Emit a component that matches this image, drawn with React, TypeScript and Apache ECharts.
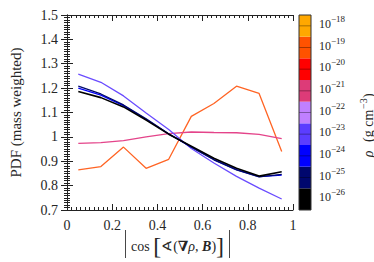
import React, { useEffect, useRef } from "react";
import * as echarts from "echarts";

const xValues = [0.05, 0.15, 0.25, 0.35, 0.45, 0.55, 0.65, 0.75, 0.85, 0.95];
const orangeSeries = [0.865, 0.878, 0.958, 0.871, 0.908, 1.084, 1.137, 1.208, 1.178, 0.94];
const pinkSeries = [0.973, 0.976, 0.985, 1.0, 1.013, 1.02, 1.018, 1.017, 1.01, 0.993];
const purpleSeries = [1.257, 1.224, 1.168, 1.098, 1.03, 0.952, 0.893, 0.838, 0.79, 0.745];
const blueSeries = [1.2, 1.171, 1.128, 1.072, 1.012, 0.959, 0.907, 0.866, 0.837, 0.843];
const navySeries = [1.208, 1.176, 1.131, 1.074, 1.013, 0.958, 0.906, 0.865, 0.836, 0.846];
const blackSeries = [1.186, 1.161, 1.123, 1.069, 1.011, 0.962, 0.912, 0.871, 0.839, 0.857];

const seriesList = [
  { name: "orange", data: orangeSeries, color: "#ff6424" },
  { name: "pink", data: pinkSeries, color: "#e4448a" },
  { name: "purple", data: purpleSeries, color: "#6a4cff" },
  { name: "blue", data: blueSeries, color: "#0000ff" },
  { name: "navy", data: navySeries, color: "#00086e" },
  { name: "black", data: blackSeries, color: "#000000" },
];

// colorbar bins, bottom to top
const colorbarColors = ["#000000", "#00076e", "#0000ff", "#5b3dff", "#c080ff", "#dd3b78", "#ff0000", "#ff5200", "#ffa800"];
const colorbarExponents = ["26", "25", "24", "23", "22", "21", "20", "19", "18"];

const FONT = "Liberation Serif, DejaVu Serif, serif";
const TXT = "#262626";
const fmt = (v: number) => String(Number(v.toFixed(1)));

const mkAxisLine = () => ({ show: true, lineStyle: { color: "#222" } });
const mkTick = () => ({ show: true, inside: true, length: 6, lineStyle: { color: "#222", width: 1 } });
const mkMinor = () => ({ show: true, splitNumber: 10, length: 3, lineStyle: { color: "#222" } });
// split lines stay "shown" but transparent: hiding them also hides the ticks here
const mkSplit = () => ({ show: true, lineStyle: { color: "rgba(0,0,0,0)" } });

const txt = (x: number, y: number, text: string, size: number, extra: any = {}) => ({
  type: "text", x, y, silent: true,
  style: { text, fontSize: size, fontFamily: FONT, fill: TXT, align: "left", verticalAlign: "middle", ...extra },
});

export default function App() {
  const ref = useRef<HTMLDivElement>(null);
  useEffect(() => {
    if (!ref.current) return;
    const chart = echarts.init(ref.current, null, { renderer: "svg" });
    const cbX = 299, cbW = 12, cbTop = 15, cbH = 195;
    const binH = cbH / colorbarColors.length;
    const graphics: any[] = [];
    colorbarColors.forEach((c, i) => {
      const y = cbTop + cbH - (i + 1) * binH;
      graphics.push({ type: "rect", silent: true, shape: { x: cbX, y, width: cbW, height: binH }, style: { fill: c } });
      const cy = y + binH / 2;
      graphics.push({ type: "line", silent: true, shape: { x1: cbX, y1: cy, x2: cbX + cbW, y2: cy }, style: { stroke: "rgba(0,0,0,0.35)", lineWidth: 1 } });
      graphics.push(txt(319, cy - 2, "10", 12));
      graphics.push(txt(331, cy - 7, "\u2212" + colorbarExponents[i], 9));
    });
    graphics.push({ type: "rect", silent: true, shape: { x: cbX, y: cbTop, width: cbW, height: cbH }, style: { fill: "transparent", stroke: "#333", lineWidth: 1 } });
    // colorbar title, reading bottom to top
    graphics.push({ ...txt(368, 154, "ρ", 14, { fontStyle: "italic", align: "center" }), rotation: Math.PI / 2 });
    graphics.push({ ...txt(368, 142, "(g cm", 14), rotation: Math.PI / 2 });
    graphics.push({ ...txt(363, 109, "\u22123", 10), rotation: Math.PI / 2 });
    graphics.push({ ...txt(368, 98, ")", 14), rotation: Math.PI / 2 });
    // x axis title
    graphics.push({ type: "line", silent: true, shape: { x1: 125.5, y1: 230, x2: 125.5, y2: 258 }, style: { stroke: "#333", lineWidth: 0.9 } });
    graphics.push({ type: "line", silent: true, shape: { x1: 229.5, y1: 230, x2: 229.5, y2: 258 }, style: { stroke: "#333", lineWidth: 0.9 } });
    graphics.push({
      type: "text", x: 177.5, y: 246, silent: true,
      style: {
        text: "{t|cos }{br|[}{t|∢(}{bf|∇}{it|ρ}{t|, }{bi|B}{t|)}{br|]}",
        align: "center", verticalAlign: "middle", fontFamily: FONT, fontSize: 14, fill: TXT,
        rich: {
          t: { fontFamily: FONT, fontSize: 14 },
          br: { fontFamily: FONT, fontSize: 24 },
          bf: { fontFamily: FONT, fontSize: 14, fontWeight: "bold" },
          it: { fontFamily: FONT, fontSize: 14, fontStyle: "italic" },
          bi: { fontFamily: FONT, fontSize: 14, fontStyle: "italic", fontWeight: "bold" },
        },
      },
    });

    const label = { fontFamily: FONT, fontSize: 14, color: TXT };

    chart.setOption({
      animation: false,
      grid: { left: 61, top: 15, width: 232, height: 195 },
      xAxis: [
        {
          type: "value", min: 0, max: 1, interval: 0.2, position: "bottom",
          axisLine: mkAxisLine(), axisTick: mkTick(), minorTick: mkMinor(), splitLine: mkSplit(),
          axisLabel: { ...label, margin: 8, formatter: fmt },
        },
        {
          type: "value", min: 0, max: 1, interval: 0.2, position: "top",
          axisLine: mkAxisLine(), axisTick: mkTick(), minorTick: mkMinor(), splitLine: mkSplit(),
          axisLabel: { show: false },
        },
      ],
      yAxis: [
        {
          type: "value", min: 0.7, max: 1.5, interval: 0.1, position: "left",
          axisLine: mkAxisLine(), axisTick: mkTick(), minorTick: mkMinor(), splitLine: mkSplit(),
          axisLabel: { ...label, margin: 9, formatter: fmt },
          name: "PDF (mass weighted)", nameLocation: "middle", nameGap: 44,
          nameTextStyle: { fontFamily: FONT, fontSize: 15, color: TXT },
        },
        {
          type: "value", min: 0.7, max: 1.5, interval: 0.1, position: "right",
          axisLine: mkAxisLine(), axisTick: mkTick(), minorTick: mkMinor(), splitLine: mkSplit(),
          axisLabel: { show: false },
        },
      ],
      series: seriesList.map((s) => ({
        type: "line", name: s.name,
        data: xValues.map((x, i) => [x, s.data[i]]),
        showSymbol: false,
        lineStyle: { color: s.color, width: s.name === "black" ? 1.6 : 1.3 },
        itemStyle: { color: s.color },
        xAxisIndex: 0, yAxisIndex: 0,
      })),
      graphic: graphics,
    });
    return () => chart.dispose();
  }, []);
  return <div ref={ref} style={{ width: 374, height: 262, position: "absolute", left: 0, top: 0 }} />;
}
